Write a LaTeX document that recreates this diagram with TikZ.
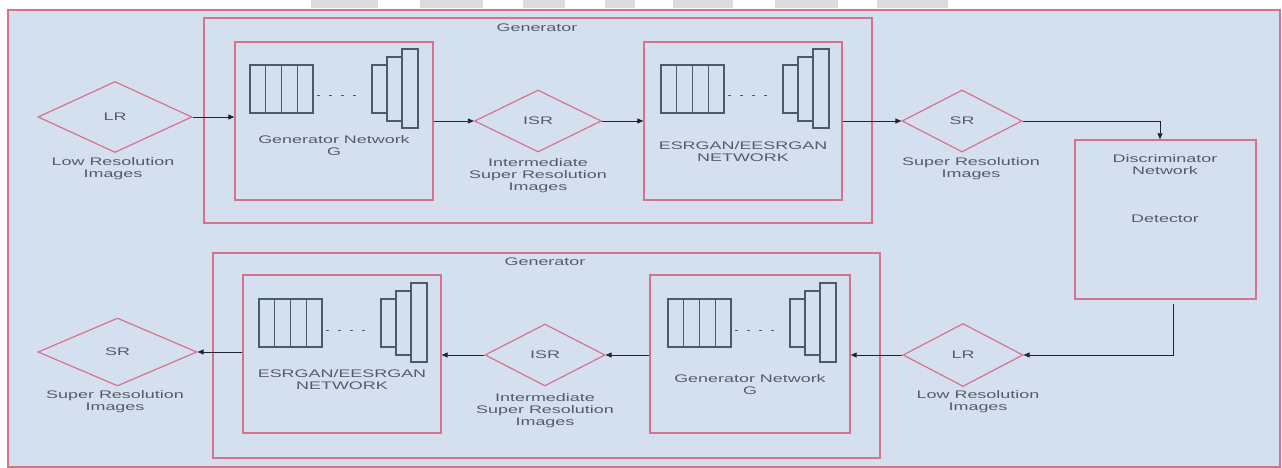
\documentclass[tikz,border=0pt]{standalone}
\usepackage{fontspec}
\setmainfont[FakeStretch=1.63]{Liberation Sans}
\usetikzlibrary{shapes.geometric,arrows.meta}

\definecolor{panel}{HTML}{D4E0F0}
\definecolor{rose}{HTML}{D4738B}
\definecolor{ink}{HTML}{555B66}
\definecolor{slate}{HTML}{4E5A6A}
\definecolor{wire}{HTML}{1F2430}
\definecolor{patch}{HTML}{DCDCDC}

\tikzset{
  x=1pt, y=-1pt,
  txt/.style={text=ink, font=\fontsize{11}{12}\selectfont, align=center, inner sep=0pt},
  box/.style={draw=rose, line width=1.4pt, inner sep=0pt},
  gem/.style={diamond, draw=rose, line width=1.2pt, inner sep=0pt, txt},
  layer/.style={draw=slate, line width=1.1pt, fill=panel},
  dots/.style={draw=slate, line width=1pt, dash pattern=on 3pt off 9pt},
  arrow/.style={draw=wire, line width=0.8pt, -{Triangle[length=6pt,width=5pt]}},
  netbody/.pic={
    \foreach \i in {0,1,2,3} \draw[layer] ({\i*15.75},0) rectangle ++(15.75,48);
    \draw[dots] (67,31) -- (108,31);
    \draw[layer] (122,0) rectangle (137,48);
    \draw[layer] (137,-8) rectangle (152,56);
    \draw[layer] (152,-16) rectangle (168,63);
  }
}

\begin{document}
\begin{tikzpicture}
\useasboundingbox (0,0) rectangle (1282,468);
\fill[white] (0,0) rectangle (1282,468);

% grey strips along the top edge
\foreach \a/\b in {311/378, 420/483, 523/565, 605/635, 673/733, 775/838, 877/948}
  \fill[patch] (\a,0) rectangle (\b,8);

% outer panel
\node[box, fill=panel, minimum width=1272pt, minimum height=457pt] (frame) at (644,238.5) {};

% ---------- upper pipeline ----------
\node[box, minimum width=668pt, minimum height=205pt] (gen1) at (538,120.5) {};
\node[txt] (gen1t) at (537,28) {Generator};

\node[box, minimum width=198pt, minimum height=158pt] (gnet1) at (334,121) {};
\pic at (250,65) {netbody};
\node[txt] (gnet1t) at (334,146) {Generator Network\\G};

\node[box, minimum width=198pt, minimum height=158pt] (esr1) at (743,121) {};
\pic at (661,65) {netbody};
\node[txt] (esr1t) at (743,151.5) {ESRGAN/EESRGAN\\NETWORK};

\node[gem, minimum width=154pt, minimum height=71pt] (lr1) at (115,117) {LR};
\node[txt] (lr1t) at (113,169) {Low Resolution\\Images};

\node[gem, minimum width=127pt, minimum height=62pt] (isr1) at (538,121) {ISR};
\node[txt] (isr1t) at (538,176) {Intermediate\\Super Resolution\\Images};

\node[gem, minimum width=120pt, minimum height=62pt] (sr1) at (962,121) {SR};
\node[txt] (sr1t) at (971,168.5) {Super Resolution\\Images};

\node[box, minimum width=181pt, minimum height=159pt] (disc) at (1165.5,219.5) {};
\node[txt] (disct) at (1165,164.5) {Discriminator\\Network};
\node[txt] (detect) at (1165,219) {Detector};

\draw[arrow] (lr1.east) -- (lr1.east -| gnet1.west);
\draw[arrow] (isr1.west -| gnet1.east) -- (isr1.west);
\draw[arrow] (isr1.east) -- (isr1.east -| esr1.west);
\draw[arrow] (sr1.west -| esr1.east) -- (sr1.west);
\draw[arrow] (sr1.east) -| ([xshift=-5.5pt]disc.north);

% ---------- lower pipeline ----------
\node[box, minimum width=667pt, minimum height=205pt] (gen2) at (546.5,355.5) {};
\node[txt] (gen2t) at (545,262) {Generator};

\node[box, minimum width=198pt, minimum height=158pt] (esr2) at (342,354) {};
\pic at (259,299) {netbody};
\node[txt] (esr2t) at (342,380) {ESRGAN/EESRGAN\\NETWORK};

\node[box, minimum width=200pt, minimum height=158pt] (gnet2) at (750,354) {};
\pic at (668,299) {netbody};
\node[txt] (gnet2t) at (750,385) {Generator Network\\G};

\node[gem, minimum width=159pt, minimum height=68pt] (sr2) at (117.5,352) {SR};
\node[txt] (sr2t) at (115,402) {Super Resolution\\Images};

\node[gem, minimum width=120pt, minimum height=62pt] (isr2) at (545,355) {ISR};
\node[txt] (isr2t) at (545,410.5) {Intermediate\\Super Resolution\\Images};

\node[gem, minimum width=120pt, minimum height=63pt] (lr2) at (963,355) {LR};
\node[txt] (lr2t) at (978,402) {Low Resolution\\Images};

\draw[arrow] ([xshift=7.5pt,yshift=-4pt]disc.south) |- (lr2.east);
\draw[arrow] (lr2.west) -- (lr2.west -| gnet2.east);
\draw[arrow] (gnet2.west |- isr2.east) -- (isr2.east);
\draw[arrow] (isr2.west) -- (isr2.west -| esr2.east);
\draw[arrow] (esr2.west |- sr2.east) -- (sr2.east);
\end{tikzpicture}
\end{document}
